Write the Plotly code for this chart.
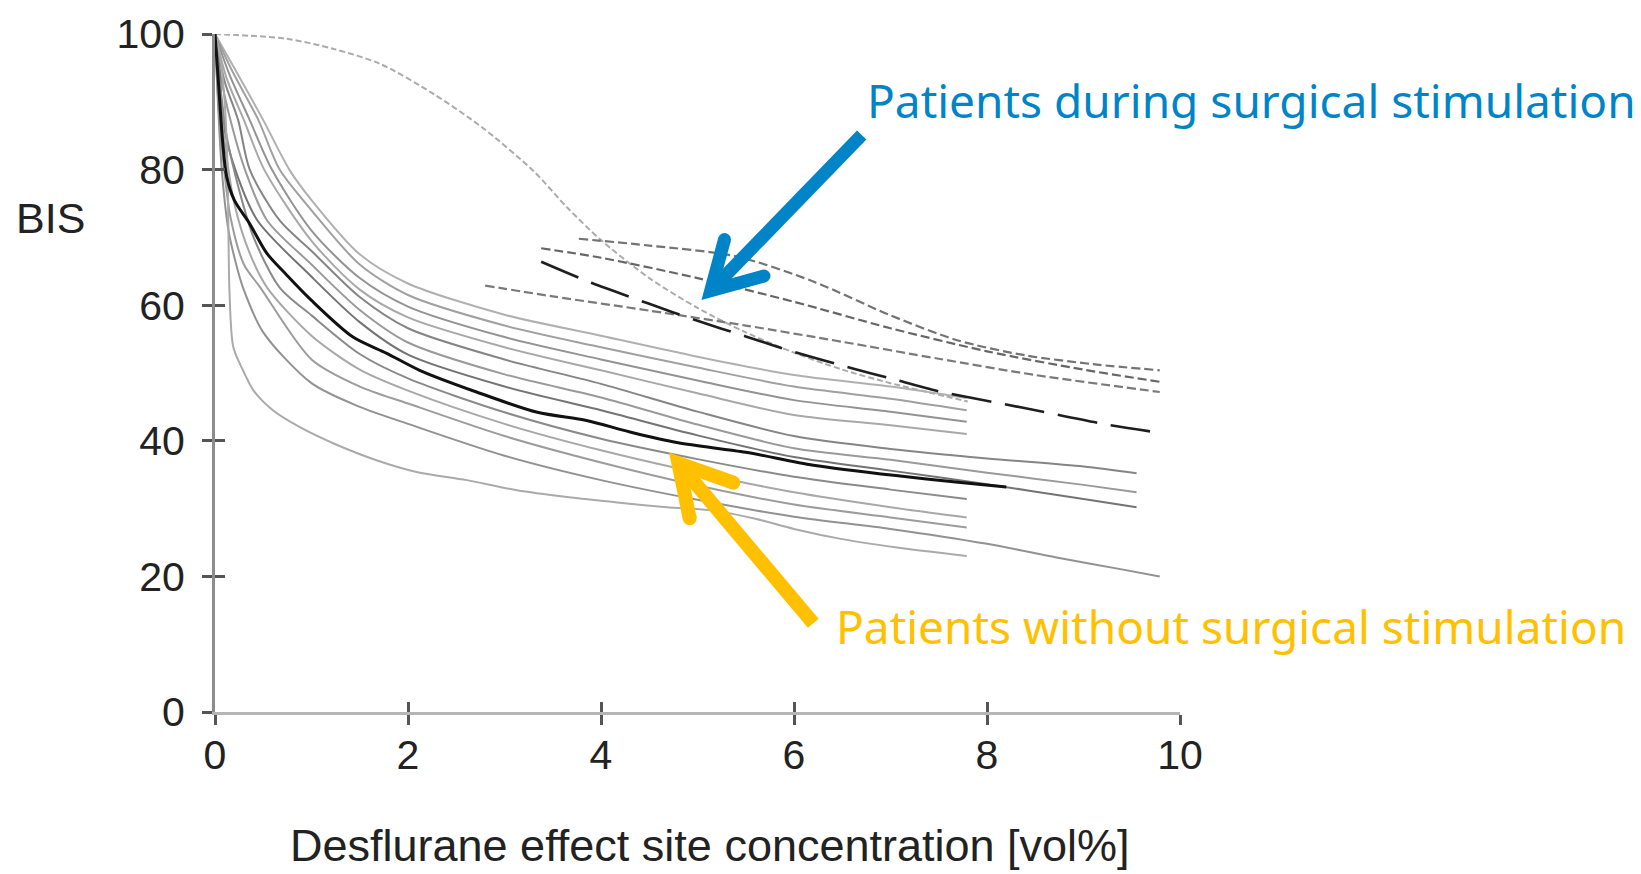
import plotly.graph_objects as go

# ---------------------------------------------------------------
# BIS vs. desflurane effect-site concentration, individual curves
# ---------------------------------------------------------------

x_ticks = [0, 2, 4, 6, 8, 10]
y_ticks = [0, 20, 40, 60, 80, 100]

# patients without surgical stimulation (solid curves)
black_x = [0, 0.04, 0.08, 0.12, 0.2, 0.36, 0.54, 0.74, 1.0, 1.43, 1.78, 2.12, 2.71, 3.34, 3.85, 4.3, 4.8, 5.5, 6.2, 7.1, 7.7, 8.2]
black_y = [100, 92, 84, 79, 75.5, 72, 67.6, 64.5, 60.7, 55.3, 52.9, 50.4, 47.2, 44.2, 43.0, 41.3, 39.7, 38.3, 36.4, 34.8, 33.9, 33.2]

u1_x = [0, 0.2, 0.5, 0.77, 1.0, 1.5, 2, 3, 4, 5, 6, 7, 7.79]
u1_y = [100, 95, 87.3, 80, 75.5, 67.5, 63.2, 58.6, 55.5, 52.4, 49.7, 48.0, 46.3]
u2_x = [0, 0.18, 0.45, 0.67, 1.0, 1.5, 2, 3, 4, 5, 6, 7, 7.79]
u2_y = [100, 94.5, 87.3, 80, 74, 66, 61.5, 57, 53.8, 50.8, 48.0, 46.2, 44.5]
u3_x = [0, 0.15, 0.36, 0.59, 1.0, 1.5, 2, 3, 4, 5, 6, 7, 7.79]
u3_y = [100, 94, 87.3, 80, 71, 64, 59.8, 55.3, 52, 48.9, 46.0, 44.3, 42.8]
u4_x = [0, 0.12, 0.3, 0.51, 1.0, 1.5, 2, 3, 4, 5, 6, 7, 7.79]
u4_y = [100, 93.5, 87.3, 80, 69.5, 62.3, 58.2, 53.8, 50.4, 47, 43.8, 42.3, 41.0]
u5_x = [0, 0.1, 0.24, 0.36, 0.67, 1.0, 1.5, 2, 3, 4, 5, 6, 7, 8, 9, 9.55]
u5_y = [100, 93, 87.3, 80, 72.5, 68, 61.2, 56.6, 52, 48.4, 44.3, 40.7, 38.8, 37.4, 36.2, 35.2]
u6_x = [0, 0.07, 0.16, 0.31, 0.54, 1.0, 1.5, 2, 3, 4, 5, 6, 7, 8, 9, 9.55]
u6_y = [100, 93, 87.3, 80, 72.5, 66, 59.3, 54.5, 49.8, 46.4, 42.4, 38.9, 37.2, 35.3, 33.5, 32.4]
u7_x = [0, 0.05, 0.08, 0.21, 0.44, 1.0, 1.5, 2, 3, 4, 5, 6, 7, 8, 9, 9.55]
u7_y = [100, 94, 87.3, 80, 72.5, 64.2, 57.5, 52.7, 48, 44.5, 40.8, 37.6, 35.6, 33.6, 31.4, 30.2]

l1_x = [0, 0.05, 0.12, 0.25, 0.4, 0.67, 1.0, 1.5, 2, 3, 4, 5, 6, 7, 7.79]
l1_y = [100, 93, 85, 77, 70, 62.6, 58.5, 52.8, 49.2, 44.2, 40.3, 37.3, 34.7, 32.8, 31.4]
l2_x = [0, 0.04, 0.1, 0.2, 0.35, 0.54, 1.0, 1.5, 2, 3, 4, 5, 6, 7, 7.79]
l2_y = [100, 92, 84, 75, 68, 62.6, 55.5, 50.5, 47.4, 42.5, 38.6, 35.3, 32.4, 30.2, 28.7]
l3_x = [0, 0.03, 0.08, 0.16, 0.3, 0.47, 1.0, 1.5, 2, 3, 4, 5, 6, 7, 7.79]
l3_y = [100, 91, 82, 73, 66, 62.6, 52, 48, 45.5, 40.7, 36.8, 33.4, 30.6, 28.7, 27.2]
l4_x = [0, 0.03, 0.07, 0.14, 0.22, 0.29, 0.5, 1.0, 1.5, 2, 3, 4, 5, 6, 7, 8, 8.72, 9.41, 9.79]
l4_y = [100, 90, 80, 71, 66, 62.6, 56, 48.5, 45, 42.5, 37.8, 34.2, 31.3, 28.8, 27.0, 24.8, 22.8, 21.0, 20.0]
l5_x = [0, 0.05, 0.1, 0.13, 0.14, 0.15, 0.19, 0.29, 0.4, 0.6, 0.88, 1.23, 1.68, 2.09, 2.61, 3.13, 3.65, 4.17, 4.68, 5.16, 5.6, 6.0, 6.5, 7.05, 7.79]
l5_y = [100, 97, 90, 80, 70, 62, 53.8, 50.4, 47.4, 44.5, 42, 39.6, 37.1, 35.4, 34.2, 32.7, 31.7, 30.9, 30.2, 29.7, 28.5, 27.0, 25.5, 24.3, 23.0]

# patients during surgical stimulation (dashed curves)
t_x = [0, 0.74, 1.23, 1.71, 2.26, 2.78, 3.3, 3.65, 4.0, 4.5, 5.0, 5.5, 6.0, 6.5, 7.0, 7.5, 7.8]
t_y = [100, 99.3, 97.8, 95.6, 91.2, 86.1, 79.8, 74.4, 69.6, 64.0, 59.6, 56.0, 53.0, 50.5, 48.5, 46.8, 45.8]
da_x = [3.77, 4.5, 5.4, 6.2, 7.0, 7.7, 8.4, 9.1, 9.79]
da_y = [69.8, 68.8, 67.2, 63.5, 58.5, 54.8, 52.6, 51.3, 50.4]
db_x = [3.38, 4, 5, 6, 7, 8, 9, 9.79]
db_y = [68.4, 67, 64, 60.5, 56.6, 53.2, 50.5, 48.7]
dc_x = [3.38, 3.9, 4.5, 5.0, 5.5, 6.0, 6.6, 7.0, 7.5, 8.4, 9.2, 9.78]
dc_y = [66.4, 63.3, 60.2, 57.7, 55.4, 53.1, 50.7, 49.2, 47.3, 44.8, 42.5, 41.2]
dd_x = [2.8, 3.5, 4.5, 5.5, 6.5, 7.5, 8.5, 9.79]
dd_y = [62.9, 61.3, 59.2, 57.0, 54.6, 52.1, 49.7, 47.2]

# drawing order and styles (light lines first, darkest last)
curves = [
    (t_x, t_y, "#ababab", 2.0, "6px,3px"),
    (u1_x, u1_y, "#b0b0b0", 2.0, "solid"),
    (u2_x, u2_y, "#a0a0a0", 2.0, "solid"),
    (u3_x, u3_y, "#939393", 2.0, "solid"),
    (u4_x, u4_y, "#a8a8a8", 2.0, "solid"),
    (u5_x, u5_y, "#858585", 2.0, "solid"),
    (u6_x, u6_y, "#9a9a9a", 2.0, "solid"),
    (u7_x, u7_y, "#747474", 2.0, "solid"),
    (l1_x, l1_y, "#8a8a8a", 2.0, "solid"),
    (l2_x, l2_y, "#a8a8a8", 2.0, "solid"),
    (l3_x, l3_y, "#9c9c9c", 2.0, "solid"),
    (l4_x, l4_y, "#929292", 2.0, "solid"),
    (l5_x, l5_y, "#aaaaaa", 2.0, "solid"),
    (da_x, da_y, "#737373", 2.2, "9px,4px"),
    (db_x, db_y, "#666666", 2.2, "9px,4px"),
    (dd_x, dd_y, "#7a7a7a", 2.2, "9px,4px"),
    (dc_x, dc_y, "#1e1e1e", 2.6, "40px,14px"),
    (black_x, black_y, "#111111", 3.0, "solid"),
]

fig = go.Figure()
for cx, cy, col, w, dash in curves:
    fig.add_trace(go.Scatter(
        x=cx, y=cy, mode="lines",
        line=dict(color=col, width=w, dash=dash, shape="spline", smoothing=0.8),
        hoverinfo="skip", showlegend=False,
    ))

# empty trace so the overlay axes (inner tick halves) are rendered
fig.add_trace(go.Scatter(x=[], y=[], xaxis="x2", yaxis="y2", showlegend=False))

W, H = 1641, 874
ML, MR, MT, MB = 215, 461, 34, 162
PW, PH = W - ML - MR, H - MT - MB


def fx(px):
    return (px - ML) / PW


def fy(py):
    return (H - MB - py) / PH


tick_font = dict(family="Liberation Sans, Arial, sans-serif", size=41, color="#222222")

fig.update_layout(
    width=W, height=H,
    margin=dict(l=ML, r=MR, t=MT, b=MB, pad=0),
    paper_bgcolor="white", plot_bgcolor="white",
    xaxis=dict(range=[0, 10], tickvals=x_ticks, ticks="outside", ticklen=10, tickwidth=2.5,
               tickcolor="#555555", showline=True, linecolor="#b5b5b5", linewidth=3,
               showgrid=False, zeroline=False, tickfont=tick_font, ticklabelstandoff=-5),
    yaxis=dict(range=[0, 100], tickvals=y_ticks, ticks="outside", ticklen=10, tickwidth=2.5,
               tickcolor="#555555", showline=True, linecolor="#8c8c8c", linewidth=3,
               showgrid=False, zeroline=False, tickfont=tick_font, ticklabelstandoff=9),
    xaxis2=dict(range=[0, 10], overlaying="x", anchor="y", side="bottom", tickvals=x_ticks,
                ticks="inside", ticklen=10, tickwidth=2.5, tickcolor="#555555",
                showticklabels=False, showline=False, showgrid=False, zeroline=False),
    yaxis2=dict(range=[0, 100], overlaying="y", anchor="x", side="left", tickvals=y_ticks,
                ticks="inside", ticklen=10, tickwidth=2.5, tickcolor="#555555",
                showticklabels=False, showline=False, showgrid=False, zeroline=False),
)

blue = "#0084C8"
yellow = "#FFC000"

annotations = [
    dict(text="BIS", x=fx(50), y=fy(218), xref="paper", yref="paper",
         xanchor="center", yanchor="middle", showarrow=False,
         font=dict(family="Liberation Sans, Arial, sans-serif", size=43, color="#222222")),
    dict(text="Desflurane effect site concentration [vol%]", x=fx(710), y=fy(845),
         xref="paper", yref="paper", xanchor="center", yanchor="middle", showarrow=False,
         font=dict(family="Liberation Sans, Arial, sans-serif", size=45, color="#222222")),
    dict(text="Patients during surgical stimulation", x=fx(1251), y=fy(100),
         xref="paper", yref="paper", xanchor="center", yanchor="middle", showarrow=False,
         font=dict(family="Noto Sans, sans-serif", size=46, color=blue)),
    dict(text="Patients without surgical stimulation", x=fx(1230.5), y=fy(626),
         xref="paper", yref="paper", xanchor="center", yanchor="middle", showarrow=False,
         font=dict(family="Noto Sans, sans-serif", size=46, color=yellow)),
]
fig.update_layout(annotations=annotations)


def seg(p0, p1, col, w):
    return dict(type="line", xref="paper", yref="paper",
                x0=fx(p0[0]), y0=fy(p0[1]), x1=fx(p1[0]), y1=fy(p1[1]),
                line=dict(color=col, width=w), layer="above")


def vee(b1, tip, b2, col, w):
    path = "M{},{} L{},{} L{},{}".format(fx(b1[0]), fy(b1[1]), fx(tip[0]), fy(tip[1]),
                                         fx(b2[0]), fy(b2[1]))
    return dict(type="path", xref="paper", yref="paper", path=path,
                line=dict(color=col, width=w), layer="above")


def dot(c, d, col):
    r = d / 2
    return dict(type="circle", xref="paper", yref="paper",
                x0=fx(c[0] - r), x1=fx(c[0] + r), y0=fy(c[1] + r), y1=fy(c[1] - r),
                fillcolor=col, line=dict(width=0), layer="above")


shapes = []
# blue arrow
b_tail, b_tip, b_b1, b_b2 = (861.7, 135), (710.7, 290.7), (724.5, 239.5), (764, 276)
shapes += [seg(b_tail, b_tip, blue, 13), vee(b_b1, b_tip, b_b2, blue, 13),
           dot(b_b1, 13, blue), dot(b_b2, 13, blue)]
# yellow arrow
y_tail, y_tip, y_b1, y_b2 = (813.3, 623.3), (678.4, 463.2), (689.7, 518.3), (733.3, 482.7)
shapes += [seg(y_tail, y_tip, yellow, 14), vee(y_b1, y_tip, y_b2, yellow, 14),
           dot(y_b1, 14, yellow), dot(y_b2, 14, yellow)]
fig.update_layout(shapes=shapes)

fig.write_html("out.html")
